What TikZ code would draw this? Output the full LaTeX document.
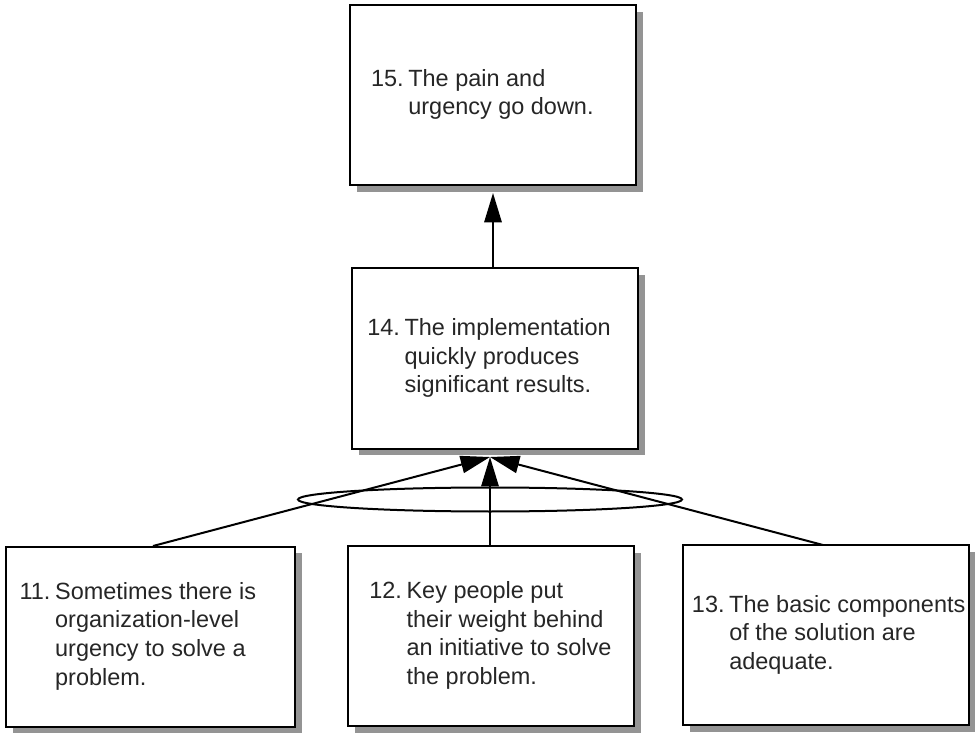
\documentclass[tikz,border=0pt]{standalone}
\usepackage{fontspec}
\setmainfont{Liberation Sans}
\usetikzlibrary{arrows.meta,shadows,shapes.geometric}

% numbered statement with a hanging indent; the optional argument
% moves the text block left (positive) or right (negative), in pt
\newcommand{\itemtext}[3][0]{%
  \hspace*{\dimexpr-#1pt\relax}%
  \begin{tabular}{@{}l@{\hspace{3.5pt}}l@{}}#2 & #3\end{tabular}%
  \hspace*{#1pt}}

\begin{document}
\begin{tikzpicture}[x=0.75pt,y=-0.75pt,
  box/.style={draw, line width=1.5pt, fill=white,
    minimum width=214.5pt, minimum height=135pt, inner sep=0pt,
    general shadow={fill=black!42, shadow xshift=5pt, shadow yshift=-5pt},
    font=\fontsize{17.6}{21.4}\selectfont, text=black!85},
  link/.style={line width=1.5pt, -{Triangle[length=22pt,width=13pt]}}]
  \useasboundingbox (0,0) rectangle (975,734);

  % effect boxes
  \node[box] (b15) at (493,95)
    {\itemtext[8]{15.}{The pain and\\ & urgency go down.}};
  \node[box] (b14) at (495,358.5)
    {\itemtext[4.5]{14.}{The implementation\\ & quickly produces\\ & significant results.}};

  % cause boxes
  \node[box, minimum width=216.75pt] (b11) at (150.5,636.5)
    {\itemtext[9.5]{11.}{Sometimes there is\\ & organization-level\\ & urgency to solve a\\ & problem.}};
  \node[box] (b12) at (491,636)
    {\itemtext[0.5]{12.}{Key people put\\ & their weight behind\\ & an initiative to solve\\ & the problem.}};
  \node[box] (b13) at (826,635)
    {\itemtext[-2]{13.}{The basic components\\ & of the solution are\\ & adequate.}};

  % arrow tips stop at the shadow edges
  \coordinate (top) at (493,193);
  \coordinate (hub) at (490,457);

  \draw[link] (b14.north -| top) -- (top);
  \draw[link] (153,546) coordinate (s11) -- (hub);
  \draw[link] (b12.north -| hub) -- (hub);
  \draw[link] (823,545) coordinate (s13) -- (hub);

  % sufficiency ellipse grouping the three causes
  \node[ellipse, draw, line width=1.5pt, minimum width=288pt,
        minimum height=18pt, inner sep=0pt] (and) at (490,499.5) {};
\end{tikzpicture}
\end{document}
